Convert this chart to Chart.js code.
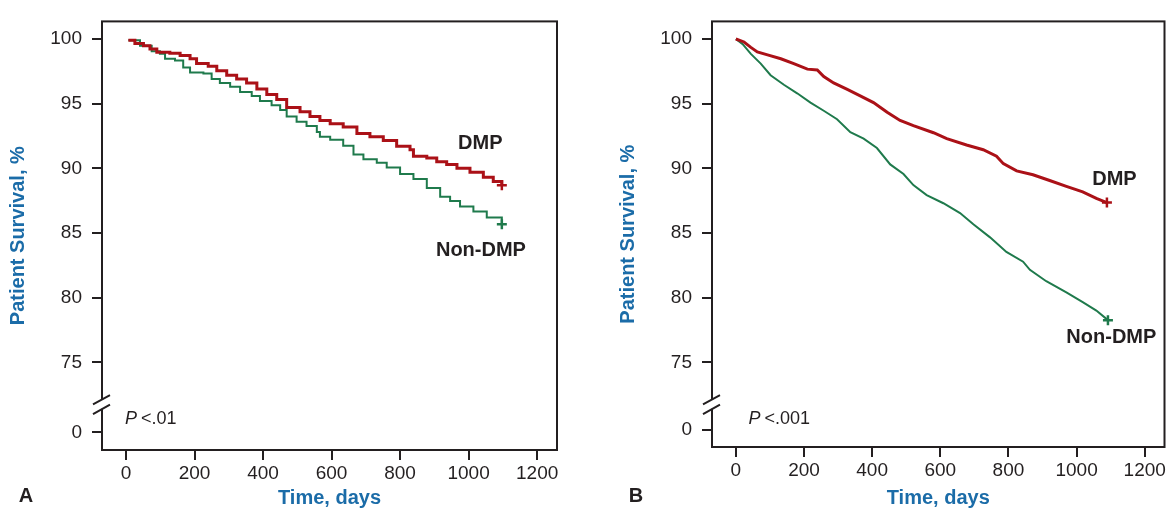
<!DOCTYPE html>
<html>
<head>
<meta charset="utf-8">
<script src="https://cdn.jsdelivr.net/npm/chart.js@4/dist/chart.umd.min.js"></script>
<style>
  body { margin: 0; background: #fff; }
  canvas { position: absolute; top: 0; }
  #chartA { left: 0; }
  #chartB { left: 586px; }
</style>
</head>
<body>
<canvas id="chartA" width="586" height="513"></canvas>
<canvas id="chartB" width="586" height="513"></canvas>
<script>
// Kaplan-Meier curves: [days, survival %]
const dmpA = [[7,99.9],[26,99.65],[51,99.47],[70,99.22],[90,98.97],[128,98.9],[158,98.72],[187,98.47],[206,98.1],[240,97.9],[265,97.54],[294,97.2],[323,96.9],[352,96.6],[382,96.14],[411,95.7],[440,95.33],[469,94.7],[508,94.38],[537,94.0],[566,93.7],[596,93.45],[634,93.2],[674,92.7],[712,92.45],[751,92.15],[790,91.7],[829,91.44],[839,90.94],[878,90.8],[907,90.5],[936,90.3],[966,90.0],[1004,89.7],[1043,89.3],[1072,88.98],[1097,88.7]];
const nonDmpA = [[7,99.9],[41,99.47],[75,99.05],[99,98.85],[114,98.47],[143,98.34],[167,97.8],[187,97.4],[226,97.34],[250,96.9],[274,96.6],[304,96.3],[333,95.9],[367,95.6],[391,95.2],[425,94.88],[450,94.5],[469,94.0],[498,93.6],[527,93.27],[557,92.8],[566,92.45],[596,92.2],[634,91.74],[664,91.06],[693,90.7],[732,90.44],[761,90.06],[800,89.56],[839,89.18],[878,88.48],[917,87.8],[946,87.48],[975,87.05],[1014,86.67],[1053,86.2],[1097,85.67]];
const dmpB = [[0,100],[24,99.77],[44,99.35],[63,99.0],[93,98.77],[132,98.47],[170,98.1],[210,97.67],[239,97.6],[258,97.1],[287,96.6],[327,96.1],[365,95.6],[404,95.08],[444,94.33],[482,93.7],[521,93.3],[580,92.75],[619,92.3],[677,91.8],[726,91.44],[765,90.94],[785,90.36],[824,89.8],[872,89.5],[921,89.06],[970,88.6],[1018,88.18],[1058,87.67],[1089,87.35]];
const nonDmpB = [[0,100],[20,99.6],[44,98.85],[73,98.1],[102,97.2],[141,96.46],[180,95.8],[219,95.08],[258,94.45],[297,93.8],[336,92.8],[375,92.3],[414,91.57],[453,90.3],[492,89.56],[521,88.7],[560,87.93],[609,87.3],[658,86.54],[697,85.67],[746,84.66],[794,83.53],[843,82.78],[863,82.15],[911,81.27],[970,80.4],[1018,79.65],[1058,79.0],[1092,78.26]];

const xTicks = [0, 200, 400, 600, 800, 1000, 1200];
const yTicks = [0, 75, 80, 85, 90, 95, 100];
const seriesNames = ['DMP', 'Non-DMP'];

const RED = '#ab1117';
const GREEN = '#1f7a4c';
const INK = '#231f20';
const BLUE = '#1b6ca8';
const FONT = '"Liberation Sans", Arial, Helvetica, sans-serif';
const BREAK_AT = 71.75; // where the broken axis is cut

function toPoints(arr) {
    return arr.map(([t, v]) => ({ x: t, y: v }));
}

function curve(arr, color, width, stepped) {
    return {
        data: toPoints(arr),
        borderColor: color,
        borderWidth: width,
        stepped: stepped,
        tension: 0,
        fill: false,
        pointStyle: 'cross',
        pointRadius: ctx => ctx.dataIndex === arr.length - 1 ? 5 : 0,
        pointBorderColor: color,
        pointBorderWidth: 2.5
    };
}

// frame, axis break, labels
function panelPlugin(p) {
    return {
        id: 'panel',
        afterDraw(chart) {
            const { ctx, chartArea: a, scales: { x, y } } = chart;
            ctx.save();
            ctx.strokeStyle = INK;
            ctx.lineWidth = 2;
            ctx.strokeRect(a.left, a.top, a.right - a.left, a.bottom - a.top);

            // break marks on the y axis
            const by = y.getPixelForValue(BREAK_AT);
            const k = 0.55;
            ctx.fillStyle = '#fff';
            ctx.fillRect(a.left - 2, by - 4.5, 4, 9);
            ctx.beginPath();
            [-4.8, 4.8].forEach(d => {
                ctx.moveTo(a.left - 9, by + d + 9 * k);
                ctx.lineTo(a.left + 8, by + d - 8 * k);
            });
            ctx.stroke();

            // curve labels
            ctx.fillStyle = INK;
            ctx.textAlign = 'center';
            ctx.textBaseline = 'middle';
            ctx.font = 'bold 20px ' + FONT;
            p.labels.forEach((l, i) => {
                ctx.fillText(seriesNames[i], x.getPixelForValue(l[0]), y.getPixelForValue(l[1]));
            });

            // P value
            ctx.textAlign = 'left';
            const px = x.getPixelForValue(p.pAt[0]);
            const py = y.getPixelForValue(p.pAt[1]);
            ctx.font = 'italic 18px ' + FONT;
            ctx.fillText('P', px, py);
            const w = ctx.measureText('P').width;
            ctx.font = '18px ' + FONT;
            ctx.fillText('<' + p.pText, px + w + 4, py);

            // panel letter
            ctx.textAlign = 'center';
            ctx.font = 'bold 20px ' + FONT;
            ctx.fillText(p.letter, a.left - 76, 496);
            ctx.restore();
        }
    };
}

function makePanel(id, dmp, nonDmp, p) {
    return new Chart(document.getElementById(id), {
        type: 'line',
        data: {
            datasets: [curve(dmp, RED, 3, p.stepped), curve(nonDmp, GREEN, 2, p.stepped)]
        },
        options: {
            responsive: false,
            animation: false,
            events: [],
            layout: { padding: { left: p.padLeft, right: p.padRight, top: 10, bottom: 0 } },
            plugins: { legend: { display: false }, tooltip: { enabled: false } },
            scales: {
                x: {
                    type: 'linear',
                    min: -70,
                    max: 1258,
                    afterBuildTicks: s => { s.ticks = xTicks.map(v => ({ value: v })); },
                    afterFit: s => { s.height = p.xHeight; },
                    ticks: {
                        color: INK, font: { family: FONT, size: 19 }, padding: 2, maxRotation: 0,
                        callback: (v, i) => String(xTicks[i])
                    },
                    grid: { drawOnChartArea: false, drawTicks: true, tickLength: 10, color: INK, lineWidth: 2 },
                    border: { display: false },
                    title: {
                        display: true, text: 'Time, days', color: BLUE,
                        font: { family: FONT, size: 20, weight: 'bold' },
                        padding: { top: 0, bottom: 3 }
                    }
                },
                y: {
                    type: 'linear',
                    min: p.yMin,
                    max: 101.36,
                    afterBuildTicks: s => { s.ticks = yTicks.map(v => ({ value: v === 0 ? p.zeroAt : v })); },
                    afterFit: s => { s.width = 102; },
                    ticks: {
                        color: INK, font: { family: FONT, size: 19 }, padding: 10,
                        callback: (v, i) => String(yTicks[i])
                    },
                    grid: { drawOnChartArea: false, drawTicks: true, tickLength: 10, color: INK, lineWidth: 2 },
                    border: { display: false },
                    title: {
                        display: true, text: 'Patient Survival, %', color: BLUE,
                        font: { family: FONT, size: 20, weight: 'bold' },
                        padding: { top: 6, bottom: 0 }
                    }
                }
            }
        },
        plugins: [panelPlugin(p)]
    });
}

makePanel('chartA', dmpA, nonDmpA, {
    padLeft: 0, padRight: 29, xHeight: 63, yMin: 68.22, zeroAt: 69.58, stepped: true,
    labels: [[1034, 91.94], [1036, 83.66]],
    pAt: [-3, 70.63], pText: '.01', letter: 'A'
});

// panel B readings are sparser than its fine steps, so join them directly
makePanel('chartB', dmpB, nonDmpB, {
    padLeft: 24, padRight: 6, xHeight: 66, yMin: 68.45, zeroAt: 69.8, stepped: false,
    labels: [[1111, 89.12], [1102, 76.88]],
    pAt: [37, 70.63], pText: '.001', letter: 'B'
});
</script>
</body>
</html>
